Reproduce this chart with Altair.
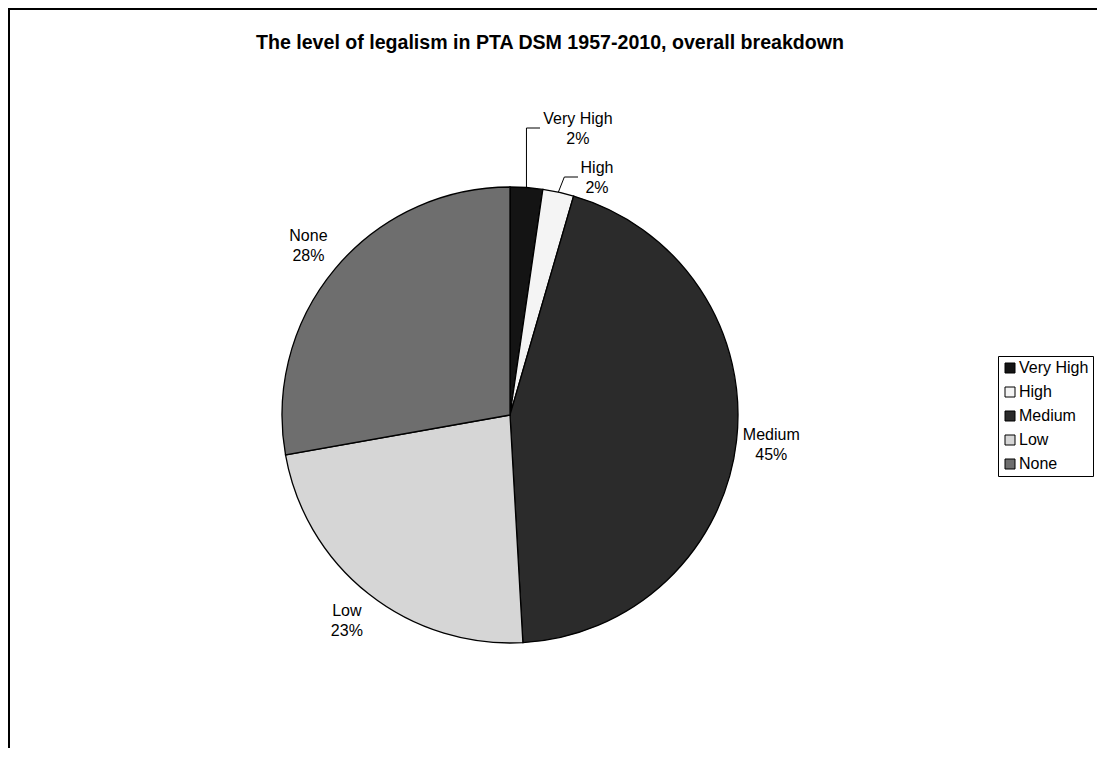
import altair as alt
import pandas as pd

# ---- data ----
levels = ["Very High", "High", "Medium", "Low", "None"]
shares = [2.3, 2.2, 44.6, 23.1, 27.8]
fills = ["#141414", "#f4f4f4", "#2b2b2b", "#d6d6d6", "#6e6e6e"]
title_text = "The level of legalism in PTA DSM 1957-2010, overall breakdown"

df = pd.DataFrame({"level": levels, "share": shares, "order": list(range(len(levels)))})
one = pd.DataFrame({"k": [0]})

W, H = 1089, 740
CX, CY, R = 502, 407, 228
FONT = "Liberation Sans"

base = alt.Chart(df).transform_joinaggregate(total="sum(share)").transform_calculate(
    pct="round(100*datum.share/datum.total) + '%'"
).transform_calculate(
    lab="datum.level + '\\n' + datum.pct"
)

theta = alt.Theta("share:Q", stack=True)
order = alt.Order("order:Q")
color = alt.Color(
    "level:N",
    scale=alt.Scale(domain=levels, range=fills),
    legend=alt.Legend(
        title=None, orient="none", legendX=990, legendY=348,
        symbolType="square", symbolSize=100, symbolStrokeColor="black",
        symbolStrokeWidth=1, labelFontSize=16, labelFont=FONT, labelColor="black",
        rowPadding=8, padding=4, strokeColor="black", fillColor="white",
        labelOffset=1,
    ),
)

pie = base.mark_arc(outerRadius=R, stroke="black", strokeWidth=1.3).encode(
    theta=theta, color=color, order=order, x=alt.value(CX), y=alt.value(CY)
)

text_kw = dict(font=FONT, fontSize=16, lineBreak="\n", lineHeight=20,
               align="center", baseline="middle", color="black")

big = base.transform_calculate(
    t="indexof(['Medium','Low','None'], datum.level) >= 0 ? datum.lab : ''"
).mark_text(radius=263, dy=-10, **text_kw).encode(
    theta=theta, order=order, text="t:N", x=alt.value(CX), y=alt.value(CY)
)

vh = base.transform_calculate(
    t="datum.level == 'Very High' ? datum.lab : ''"
).mark_text(radius=290, dx=47, dy=-7, **text_kw).encode(
    theta=theta, order=order, text="t:N", x=alt.value(CX), y=alt.value(CY)
)

hi = base.transform_calculate(
    t="datum.level == 'High' ? datum.lab : ''"
).mark_text(radius=250, dx=34, dy=-3, **text_kw).encode(
    theta=theta, order=order, text="t:N", x=alt.value(CX), y=alt.value(CY)
)

lead = alt.Chart(df).transform_window(
    cum="sum(share)", sort=[alt.SortField("order")]
).transform_joinaggregate(total="sum(share)").transform_calculate(
    mid="2*PI*(datum.cum - datum.share/2)/datum.total"
).transform_calculate(
    x1=f"{CX} + {R}*sin(datum.mid)",
    y1=f"{CY} - {R}*cos(datum.mid)",
).transform_filter(
    "datum.level == 'Very High' || datum.level == 'High'"
).transform_calculate(
    ex="datum.level == 'High' ? datum.x1 + 6 : datum.x1",
    ey="datum.level == 'High' ? 169 : 120",
    endx="datum.level == 'High' ? 570 : 532",
)

lead1 = lead.mark_rule(color="black", strokeWidth=1).encode(
    x=alt.X("x1:Q", scale=None, axis=None), y=alt.Y("y1:Q", scale=None, axis=None),
    x2="ex:Q", y2="ey:Q",
)
lead2 = lead.mark_rule(color="black", strokeWidth=1).encode(
    x=alt.X("ex:Q", scale=None, axis=None), y=alt.Y("ey:Q", scale=None, axis=None),
    x2="endx:Q", y2="ey:Q",
)

title = alt.Chart(one).mark_text(
    font=FONT, fontSize=19.6, fontWeight="bold", align="center", baseline="middle", color="black"
).encode(x=alt.value(542), y=alt.value(35), text=alt.value(title_text))

frame_top = alt.Chart(one).mark_rule(color="black", strokeWidth=2).encode(
    x=alt.value(0), x2=alt.value(W), y=alt.value(1)
)
frame_left = alt.Chart(one).mark_rule(color="black", strokeWidth=2).encode(
    x=alt.value(1), y=alt.value(0), y2=alt.value(H)
)

chart = alt.layer(
    frame_top, frame_left, title, pie, lead1, lead2, big, vh, hi
).properties(
    width=W, height=H, autosize=alt.AutoSizeParams(type="none"), padding=0
).configure_view(stroke=None).configure(background="white")

chart.save("out.html", embed_options={"renderer": "svg", "actions": False})
